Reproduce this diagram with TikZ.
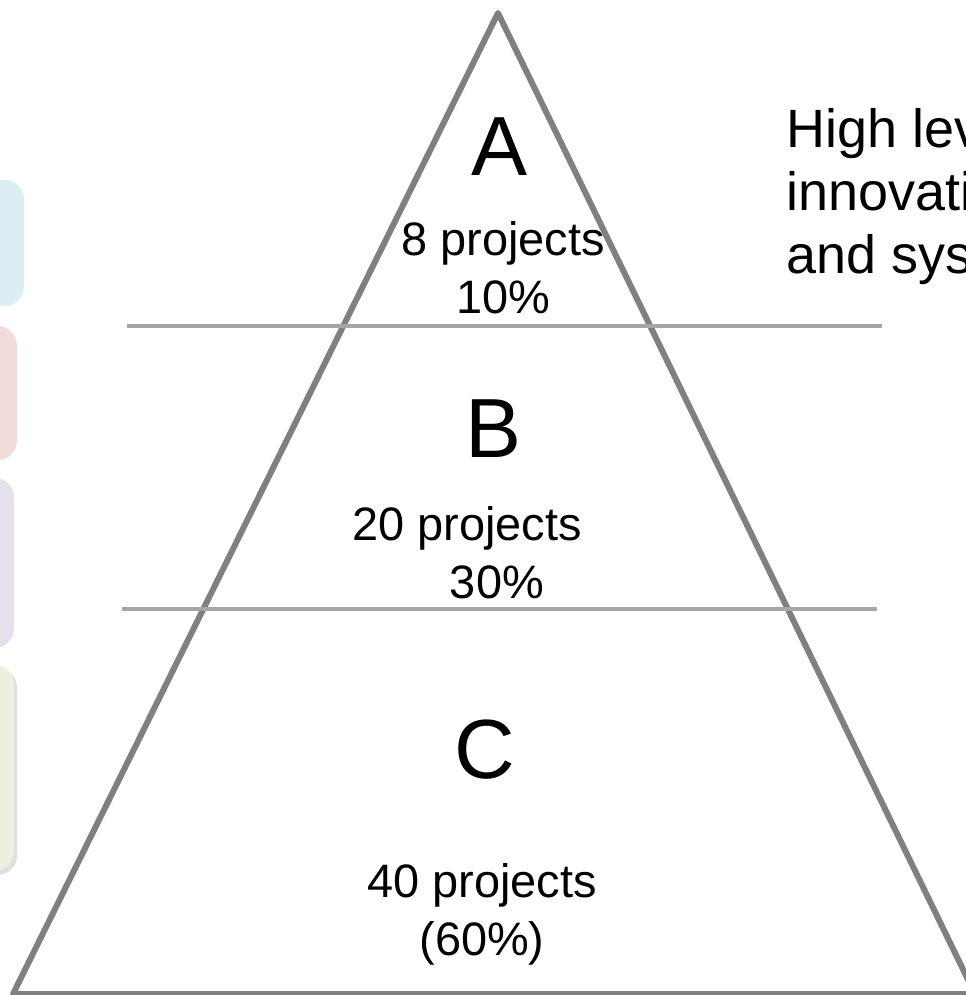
\documentclass[tikz,border=0pt]{standalone}
\usepackage{fontspec}
\setmainfont{Liberation Sans}
\definecolor{tri}{HTML}{808080}
\definecolor{sep}{HTML}{A6A6A6}
\definecolor{tabblue}{HTML}{DAEEF3}
\definecolor{tabpink}{HTML}{F2DCDB}
\definecolor{tablilac}{HTML}{E5E0EC}
\definecolor{tabgreen}{HTML}{EBF1DE}
\tikzset{
    every node/.style={inner sep=0pt, anchor=base},
    level/.style={font=\fontsize{47.8}{57}\selectfont},
    share/.style={font=\fontsize{26.7}{33}\selectfont, align=center},
    tab/.style={rounded corners=11pt},
}

\begin{document}
\begin{tikzpicture}[x=0.02cm, y=-0.02cm]
  \useasboundingbox (0,0) rectangle (966,995);
  % side tabs
  \fill[black!12, tab] (-100,668) rectangle (17,875);
  \fill[tabblue, tab] (-100,180) rectangle (24,306);
  \fill[tabpink, tab] (-100,326) rectangle (17,460);
  \fill[tablilac, tab] (-100,478) rectangle (14,648);
  \fill[tabgreen, tab] (-100,665) rectangle (14,871);

  \coordinate (apex) at (498,13);
  \coordinate (base_l) at (13,994);
  \coordinate (base_r) at (975,994);
  \coordinate (cut1_l) at (127,326);
  \coordinate (cut1_r) at (882,326);
  \coordinate (cut2_l) at (122,609);
  \coordinate (cut2_r) at (877,609);

  \draw[tri, line width=3.4pt, line join=round] (apex) -- (base_l) -- (base_r) -- cycle;
  \draw[sep, line width=2.3pt] (cut1_l) -- (cut1_r);
  \draw[sep, line width=2.3pt] (cut2_l) -- (cut2_r);

  \node (A) [level] at (500,175) {A};
  \node (A_share) [share] at (503,313) {8 projects\\10\%};
  \node (B) [level] at (494,457) {B};
  \node (B_share) [share] at (467,598) {20 projects\\\hspace*{34pt}30\%};
  \node (C) [level] at (485,778) {C};
  \node (C_share) [share] at (482,955) {40 projects\\(60\%)};

  \node (note) [anchor=base west, align=left, font=\fontsize{30.7}{35.6}\selectfont]
    at (786,273) {High lev\\innovati\\and sys};
\end{tikzpicture}
\end{document}
